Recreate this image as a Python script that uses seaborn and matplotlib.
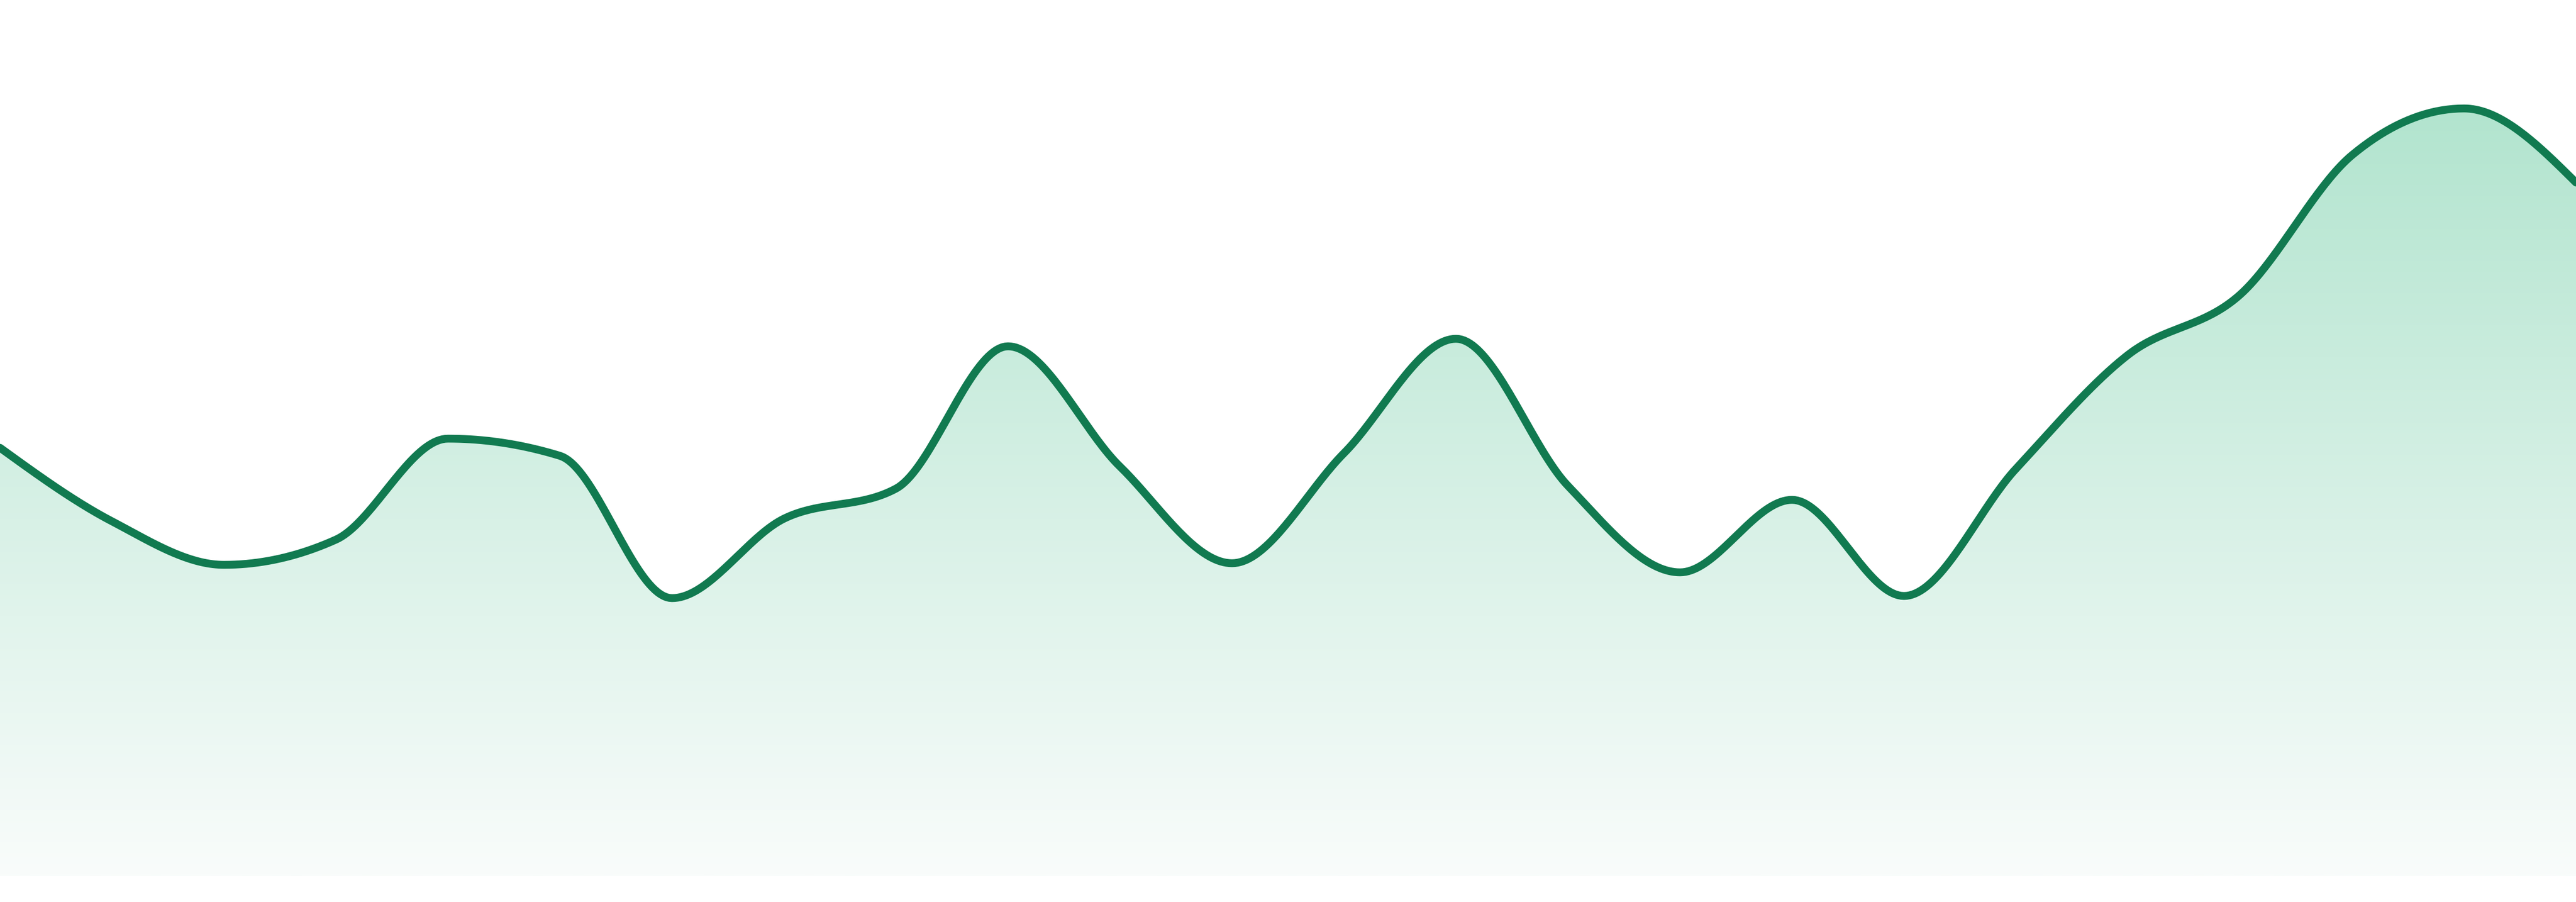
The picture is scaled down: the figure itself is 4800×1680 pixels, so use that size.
import numpy as np
import pandas as pd
import matplotlib
matplotlib.use("Agg")
import matplotlib.pyplot as plt
from matplotlib.patches import Polygon
import seaborn as sns

# one value per step, 24 steps spanning the full width
steps = list(range(24))
values = [79.8, 66.1, 58.0, 62.7, 81.5, 78.3, 51.8, 66.6, 72.2, 98.7, 76.3, 58.3,
          78.8, 100.1, 72.7, 56.6, 70.1, 52.2, 75.9, 97.1, 108.3, 134.3, 143.0, 129.2]

line_color = "#117a50"
fill_top = (177, 228, 206)
fill_bottom = (249, 252, 251)


def monotone_x(x, y, n=40):
    # same smoothing as d3.curveMonotoneX
    x = np.asarray(x, float)
    y = np.asarray(y, float)
    h = np.diff(x)
    s = np.diff(y) / h
    t = np.zeros(len(x))
    for i in range(1, len(x) - 1):
        p = (s[i - 1] * h[i] + s[i] * h[i - 1]) / (h[i - 1] + h[i])
        t[i] = (np.sign(s[i - 1]) + np.sign(s[i])) * min(abs(s[i - 1]), abs(s[i]), 0.5 * abs(p))
    t[0] = (3 * s[0] - t[1]) / 2
    t[-1] = (3 * s[-1] - t[-2]) / 2
    xs, ys = [], []
    for i in range(len(x) - 1):
        u = np.linspace(0, 1, n, endpoint=(i == len(x) - 2))
        h00 = 2 * u**3 - 3 * u**2 + 1
        h10 = u**3 - 2 * u**2 + u
        h01 = -2 * u**3 + 3 * u**2
        h11 = u**3 - u**2
        xs.append(x[i] + u * h[i])
        ys.append(h00 * y[i] + h10 * h[i] * t[i] + h01 * y[i + 1] + h11 * h[i] * t[i + 1])
    return np.concatenate(xs), np.concatenate(ys)


sx, sy = monotone_x(steps, values)
df = pd.DataFrame({"step": sx, "value": sy})

sns.set_style("white")
fig = plt.figure(figsize=(48, 16.8), dpi=100)
ax = fig.add_axes([0, 0, 1, 1])

# gradient area under the curve
top = 145
grad = np.linspace(0, 1, 256)[:, None]
rgb = (np.array(fill_bottom)[None, :] * (1 - grad) + np.array(fill_top)[None, :] * grad) / 255
img = ax.imshow(rgb[:, None, :], extent=[0, 23, 0, top], origin="lower",
                aspect="auto", interpolation="bilinear", zorder=1)
verts = np.vstack([np.column_stack([sx, sy]), [[23, 0], [0, 0]]])
clip = Polygon(verts, closed=True, facecolor="none", edgecolor="none")
ax.add_patch(clip)
img.set_clip_path(clip)

sns.lineplot(data=df, x="step", y="value", estimator=None, sort=False,
             color=line_color, linewidth=10.5, ax=ax, zorder=3)
for ln in ax.get_lines():
    ln.set_solid_joinstyle("round")

ax.set_xlim(0, 23)
ax.set_ylim(-4.8, 163.2)
ax.axis("off")

fig.savefig("out.png", dpi=100, facecolor="white")
